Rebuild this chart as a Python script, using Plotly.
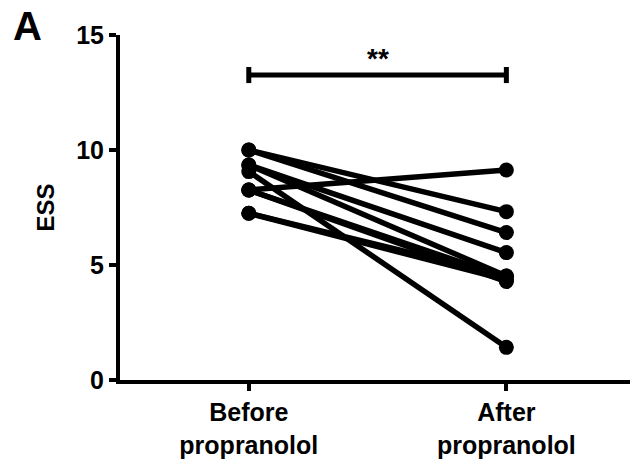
import plotly.graph_objects as go

categories = ["Before<br>propranolol", "After<br>propranolol"]
before = [10.0, 10.0, 9.35, 9.35, 9.06, 8.26, 8.26, 8.26, 7.25, 7.25]
after = [7.32, 6.41, 5.54, 4.52, 1.42, 9.13, 4.45, 4.28, 4.52, 4.35]
y_ticks = [0, 5, 10, 15]
bracket_y = 13.26
bracket_cap = 0.35
stars_y = 14.0

FONT = "Liberation Sans, Arial, sans-serif"

W, H = 631, 463
ML, MT, MR, MB = 120, 35, 1, 83
PW, PH = W - ML - MR, H - MT - MB

fig = go.Figure()
for b, a in zip(before, after):
    fig.add_trace(go.Scatter(
        x=[0, 1], y=[b, a], mode="lines+markers",
        line=dict(color="black", width=5.5),
        marker=dict(color="black", size=15),
        showlegend=False, hoverinfo="skip",
    ))

# significance bracket
fig.add_trace(go.Scatter(x=[0, 1], y=[bracket_y, bracket_y], mode="lines",
                         line=dict(color="black", width=5), showlegend=False,
                         hoverinfo="skip"))
for xc in [0, 1]:
    fig.add_trace(go.Scatter(x=[xc, xc], y=[bracket_y - bracket_cap, bracket_y + bracket_cap],
                             mode="lines", line=dict(color="black", width=5),
                             showlegend=False, hoverinfo="skip"))

fig.add_annotation(x=0.5, y=stars_y, xref="x", yref="y", text="<b>**</b>",
                   showarrow=False, font=dict(family=FONT, size=28, color="black"))
fig.add_annotation(x=(27 - ML) / PW, y=1 + (MT - 26) / PH, xref="paper", yref="paper",
                   text="<b>A</b>", showarrow=False, xanchor="center", yanchor="middle",
                   borderpad=0,
                   font=dict(family=FONT, size=40, color="black"))
fig.add_annotation(x=(45 - ML) / PW, y=7.5, xref="paper", yref="y",
                   text="<b>ESS</b>", showarrow=False, textangle=-90,
                   xanchor="center", yanchor="middle",
                   font=dict(family=FONT, size=24, color="black"))

fig.update_layout(
    width=W, height=H,
    margin=dict(l=ML, r=MR, t=MT, b=MB),
    paper_bgcolor="white", plot_bgcolor="white",
    font=dict(family=FONT, size=25, color="black"),
)

fig.update_xaxes(
    range=[-0.5, 1.48], tickvals=[0, 1],
    ticktext=["<b>%s</b>" % c.replace("<br>", "</b><br><b>") for c in categories],
    showline=True, linecolor="black", linewidth=4,
    ticks="outside", ticklen=7, tickwidth=4, tickcolor="black",
    showgrid=False, zeroline=False, tickfont=dict(size=25, family=FONT),
)
fig.update_yaxes(
    range=[0, 15], tickvals=y_ticks, ticktext=["<b>%d</b>" % t for t in y_ticks],
    showline=True, linecolor="black", linewidth=4,
    ticks="outside", ticklen=7, tickwidth=4, tickcolor="black",
    showgrid=False, zeroline=False, tickfont=dict(size=25, family=FONT),
)

fig.write_html("out.html", config={"displayModeBar": False},
               post_script="document.body.style.margin='0';")
